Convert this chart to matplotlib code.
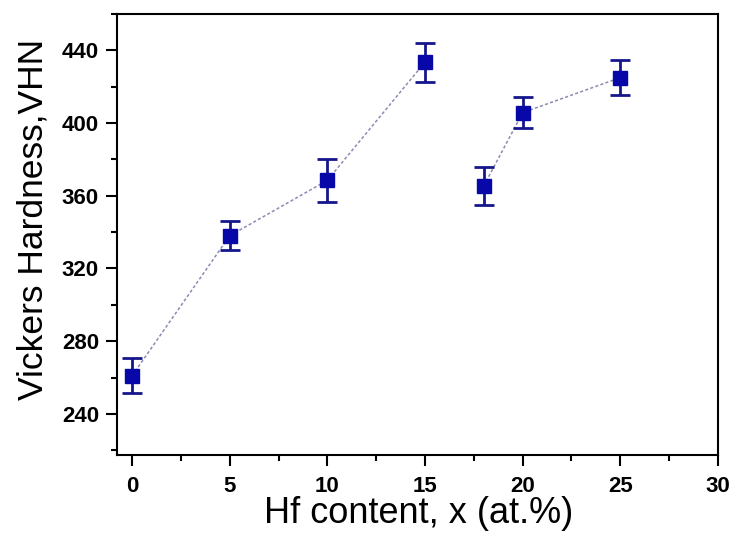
import matplotlib
matplotlib.use("Agg")
import matplotlib.pyplot as plt
from matplotlib.ticker import MultipleLocator

plt.rcParams['font.family'] = ['Liberation Sans', 'DejaVu Sans']
plt.rcParams['xtick.labelsize'] = 16
plt.rcParams['ytick.labelsize'] = 16

# data
hf_a = [0, 5, 10, 15]
vhn_a = [261, 338, 368.5, 433.5]
err_a = [9.6, 8.0, 11.8, 10.8]
hf_b = [18, 20, 25]
vhn_b = [365.3, 405.7, 425]
err_b = [10.5, 8.5, 9.5]

fig = plt.figure(figsize=(7.36, 5.37), dpi=100)
ax = fig.add_axes([0.159, 0.153, 0.8165, 0.821])

line_kw = dict(color='#8c8ab4', linestyle=(0, (2, 1.5)), linewidth=1.1, zorder=1)
ax.plot(hf_a, vhn_a, **line_kw)
ax.plot(hf_b, vhn_b, **line_kw)
for xs, ys, es in [(hf_a, vhn_a, err_a), (hf_b, vhn_b, err_b)]:
    ax.errorbar(xs, ys, yerr=es, fmt='s', color='#0808a8', ecolor='#16168c',
                markersize=10.5, elinewidth=2, capsize=7, capthick=2, zorder=3)

ax.set_xlim(-0.77, 30)
ax.set_ylim(217.5, 460)
ax.xaxis.set_major_locator(MultipleLocator(5))
ax.xaxis.set_minor_locator(MultipleLocator(2.5))
ax.yaxis.set_major_locator(MultipleLocator(40))
ax.yaxis.set_minor_locator(MultipleLocator(20))
ax.tick_params(which='major', direction='out', length=8, width=1.5)
ax.tick_params(which='minor', direction='out', length=4.5, width=1.5)
ax.tick_params(axis='x', which='major', pad=7)
ax.tick_params(axis='y', which='major', pad=5)
for lab in ax.get_xticklabels() + ax.get_yticklabels():
    lab.set_fontweight('bold')
    lab.set_fontsize(16)
for s in ax.spines.values():
    s.set_linewidth(1.5)

ax.set_xlabel('Hf content, x (at.%)', fontsize=26)
ax.set_ylabel('Vickers Hardness,VHN', fontsize=25.5)
ax.xaxis.set_label_coords(0.5017, -0.093)
ax.yaxis.set_label_coords(-0.113, 0.533)

fig.savefig('out.png', dpi=100)
